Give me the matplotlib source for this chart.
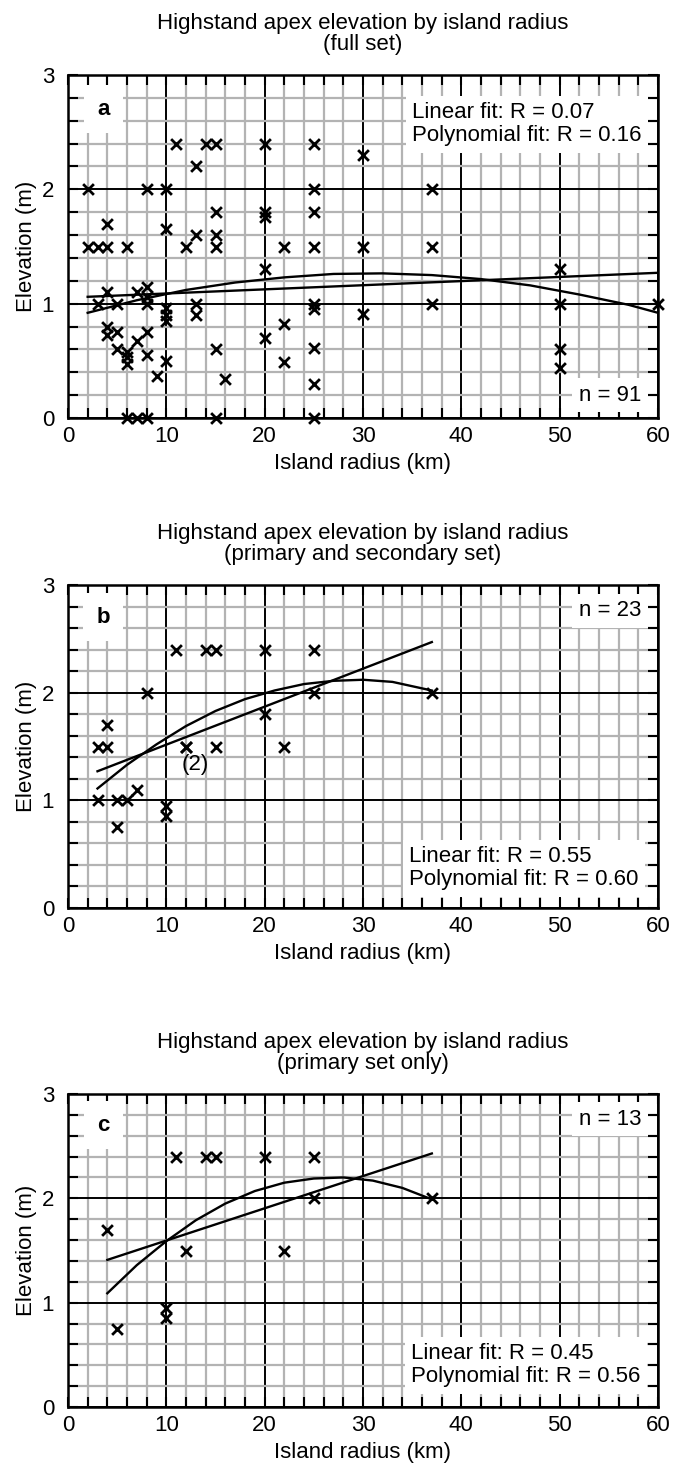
import numpy as np
import matplotlib.pyplot as plt

plt.rcParams['font.family'] = ['Liberation Sans', 'DejaVu Sans']

# panel a: full set (visible points)
radius_a = [2, 2, 3, 3, 4, 4, 4, 4, 4, 5, 5, 5, 6, 6, 6, 6, 6, 7, 7, 7,
            8, 8, 8, 8, 8, 8, 8, 9, 10, 10, 10, 10, 10, 10, 11, 12,
            13, 13, 13, 13, 14, 15, 15, 15, 15, 15, 15, 16,
            20, 20, 20, 20, 20, 22, 22, 22,
            25, 25, 25, 25, 25, 25, 25, 25, 25, 30, 30, 30, 37, 37, 37,
            50, 50, 50, 50, 60]
elev_a = [2.0, 1.5, 1.5, 1.0, 1.7, 1.5, 1.1, 0.8, 0.73, 1.0, 0.75, 0.6,
          1.5, 0.58, 0.53, 0.47, 0.0, 1.1, 0.67, 0.0,
          2.0, 1.15, 1.06, 1.0, 0.75, 0.55, 0.0, 0.37, 2.0, 1.65, 0.96, 0.9, 0.85, 0.5, 2.4, 1.5,
          2.2, 1.6, 1.0, 0.9, 2.4, 2.4, 1.8, 1.6, 1.5, 0.6, 0.0, 0.34,
          2.4, 1.8, 1.76, 1.3, 0.7, 1.5, 0.82, 0.49,
          2.4, 2.0, 1.8, 1.5, 1.0, 0.95, 0.61, 0.3, 0.0, 2.3, 1.5, 0.91, 2.0, 1.5, 1.0,
          1.3, 1.0, 0.6, 0.44, 1.0]
lin_x_a = [2, 60]
lin_y_a = [1.06, 1.27]
poly_x_a = [2, 7, 12, 17, 22, 27, 32, 37, 42, 47, 52, 57, 60]
poly_y_a = [0.92, 1.03, 1.12, 1.185, 1.23, 1.26, 1.265, 1.25, 1.215, 1.16, 1.08, 0.99, 0.92]

# panel b: primary and secondary set
radius_b = [3, 4, 4, 3, 5, 6, 5, 7, 8, 10, 10, 11, 14, 15, 12, 12, 15, 20, 20, 22, 25, 25, 37]
elev_b = [1.5, 1.5, 1.7, 1.0, 1.0, 1.0, 0.75, 1.1, 2.0, 0.95, 0.85, 2.4, 2.4, 2.4,
          1.5, 1.5, 1.5, 2.4, 1.8, 1.5, 2.4, 2.0, 2.0]
lin_x_b = [3, 37]
lin_y_b = [1.27, 2.47]
poly_x_b = [3, 6, 9, 12, 15, 18, 21, 24, 27, 30, 33, 37]
poly_y_b = [1.11, 1.33, 1.52, 1.69, 1.83, 1.94, 2.02, 2.08, 2.11, 2.12, 2.10, 2.02]

# panel c: primary set only
radius_c = [4, 5, 10, 10, 11, 12, 14, 15, 20, 22, 25, 25, 37]
elev_c = [1.7, 0.75, 0.95, 0.85, 2.4, 1.5, 2.4, 2.4, 2.4, 1.5, 2.4, 2.0, 2.0]
lin_x_c = [4, 37]
lin_y_c = [1.41, 2.43]
poly_x_c = [4, 7, 10, 13, 16, 19, 22, 25, 28, 31, 34, 37]
poly_y_c = [1.09, 1.36, 1.59, 1.79, 1.95, 2.07, 2.15, 2.19, 2.20, 2.17, 2.10, 1.99]

panels = [
    dict(x=radius_a, y=elev_a, lx=lin_x_a, ly=lin_y_a, px=poly_x_a, py=poly_y_a,
         sub='(full set)', tag='a', n='n = 91', fit='Linear fit: R = 0.07\nPolynomial fit: R = 0.16',
         rect=[68, 75, 658, 418], fit_pos=(35, 2.57), n_pos=(58.3, 0.2)),
    dict(x=radius_b, y=elev_b, lx=lin_x_b, ly=lin_y_b, px=poly_x_b, py=poly_y_b,
         sub='(primary and secondary set)', tag='b', n='n = 23', fit='Linear fit: R = 0.55\nPolynomial fit: R = 0.60',
         rect=[68, 585, 658, 908], fit_pos=(34.7, 0.37), n_pos=(58.3, 2.76)),
    dict(x=radius_c, y=elev_c, lx=lin_x_c, ly=lin_y_c, px=poly_x_c, py=poly_y_c,
         sub='(primary set only)', tag='c', n='n = 13', fit='Linear fit: R = 0.45\nPolynomial fit: R = 0.56',
         rect=[68, 1094, 658, 1407], fit_pos=(34.9, 0.40), n_pos=(58.3, 2.76)),
]

W, H = 680, 1466
fs = 16
fig = plt.figure(figsize=(W / 100, H / 100), dpi=100)

for p in panels:
    x0, y0, x1, y1 = p['rect']
    ax = fig.add_axes([x0 / W, 1 - y1 / H, (x1 - x0) / W, (y1 - y0) / H])
    ax.set_xlim(0, 60)
    ax.set_ylim(0, 3)
    ax.set_xticks(range(0, 61, 10))
    ax.set_xticks(range(0, 61, 2), minor=True)
    ax.set_yticks([0, 1, 2, 3])
    ax.set_yticks(np.arange(0, 3.01, 0.2), minor=True)
    ax.set_axisbelow(True)
    ax.grid(which='minor', color='#b3b3b3', lw=1.6)
    ax.grid(which='major', color='black', lw=1.4)
    ax.tick_params(which='both', direction='in', top=True, right=True,
                   length=7, width=1.5, labelsize=fs)
    ax.tick_params(axis='x', pad=6)
    ax.tick_params(axis='y', pad=10)
    for s in ax.spines.values():
        s.set_linewidth(1.8)

    ax.plot(p['lx'], p['ly'], color='black', lw=1.7, zorder=4)
    ax.plot(p['px'], p['py'], color='black', lw=1.7, zorder=4)
    ax.scatter(p['x'], p['y'], marker='x', s=60, color='black', linewidths=2.0, zorder=5,
               clip_on=False)

    white = dict(boxstyle='square,pad=0.3', fc='white', ec='none')
    ax.text(3.6, 2.7, p['tag'], fontsize=fs, fontweight='bold', ha='center', va='center',
            bbox=dict(boxstyle='square,pad=0.6', fc='white', ec='none'), zorder=3)
    ax.text(p['n_pos'][0], p['n_pos'][1], p['n'], fontsize=fs, ha='right', va='center',
            bbox=white, zorder=3)
    ax.text(p['fit_pos'][0], p['fit_pos'][1], p['fit'], fontsize=fs, ha='left', va='center',
            linespacing=1.12, bbox=white, zorder=3)
    if p['tag'] == 'b':
        ax.text(12.9, 1.33, '(2)', fontsize=fs, ha='center', va='center', zorder=3)

    ax.set_title('Highstand apex elevation by island radius\n' + p['sub'],
                 fontsize=fs, linespacing=1.0, pad=18)
    ax.set_xlabel('Island radius (km)', fontsize=fs, labelpad=4)
    ax.set_ylabel('Elevation (m)', fontsize=fs, labelpad=3)

fig.savefig('out.png', dpi=100)
